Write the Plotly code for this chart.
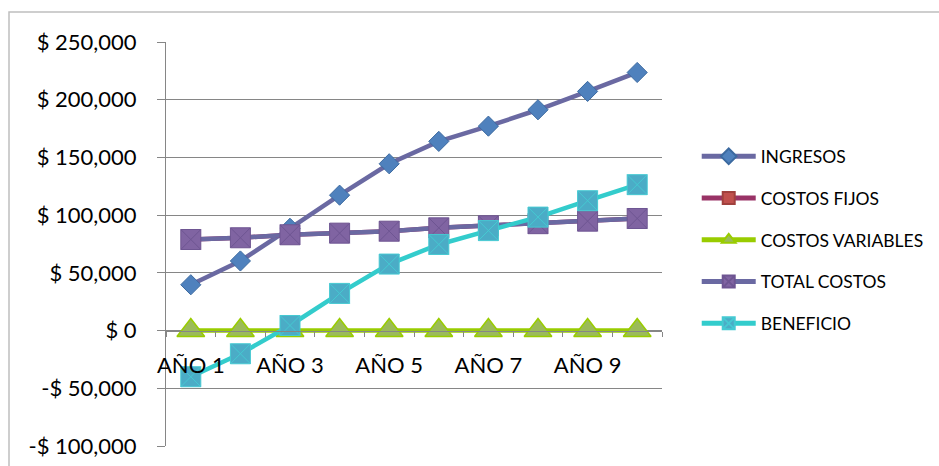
import plotly.graph_objects as go

# ---- data ----
categories = ["AÑO 1", "AÑO 2", "AÑO 3", "AÑO 4", "AÑO 5",
              "AÑO 6", "AÑO 7", "AÑO 8", "AÑO 9", "AÑO 10"]
year_index = [1, 2, 3, 4, 5, 6, 7, 8, 9, 10]
ingresos = [39700, 60300, 88600, 117300, 144500, 163900, 177100, 191300, 207200, 223600]
costos_fijos = [78900, 80400, 83000, 84400, 86100, 89000, 90800, 92600, 94800, 97100]
costos_variables = [0, 0, 0, 0, 0, 0, 0, 0, 0, 0]
total_costos = [78900, 80400, 83000, 84400, 86100, 89000, 90800, 92600, 94800, 97100]
beneficio = [-40000, -20100, 4400, 32200, 57600, 74600, 86600, 98300, 112500, 126400]

x_tick_vals = [1, 3, 5, 7, 9]
x_tick_text = ["AÑO 1", "AÑO 3", "AÑO 5", "AÑO 7", "AÑO 9"]
y_tick_vals = [-100000, -50000, 0, 50000, 100000, 150000, 200000, 250000]
y_tick_text = ["-$ 100,000", "-$ 50,000", "$ 0", "$ 50,000", "$ 100,000",
               "$ 150,000", "$ 200,000", "$ 250,000"]

FONT = "Lato"
LW = 4.5

fig = go.Figure()
series = [
    ("INGRESOS", ingresos, "#6A69A2", "diamond", 15.5, "#4F81BD", "#3C6AA0", 1),
    ("COSTOS FIJOS", costos_fijos, "#993366", "square", 18, "#C0504D", "#A0403D", 1),
    ("COSTOS VARIABLES", costos_variables, "#99CC00", "triangle-up", 24, "#9BBB59", "#99CC00", 1.5),
    ("TOTAL COSTOS", total_costos, "#6A69A2", "square-x", 20, "#8064A2", "#6E5592", 1),
    ("BENEFICIO", beneficio, "#33CCCC", "square-x", 20, "#4BACC6", "#45C9D2", 1),
]
for i, (name, vals, lc, sym, ms, mc, mlc, mlw) in enumerate(series):
    fig.add_trace(go.Scatter(
        x=year_index, y=vals, name=name, mode="lines+markers",
        line=dict(color=lc, width=LW),
        marker=dict(symbol=sym, size=ms, color=mc, line=dict(color=mlc, width=mlw)),
        legendgroup=f"g{i}",
    ))

fig.update_layout(
    width=939, height=466,
    margin=dict(l=166, r=277, t=42, b=20, pad=0, autoexpand=False),
    paper_bgcolor="white", plot_bgcolor="white",
    font=dict(family=FONT, color="black"),
    shapes=[dict(type="rect", xref="paper", yref="paper",
                 x0=(9 - 166) / 496, x1=1.7, y0=-0.2, y1=(446 - 12) / 404,
                 line=dict(color="#BFBFBF", width=1.5), layer="below")],
    legend=dict(
        x=1.07, xanchor="left", y=0.51, yanchor="middle",
        font=dict(family=FONT, size=17.5, color="black"),
        traceorder="grouped", tracegroupgap=16,
        itemwidth=54, itemsizing="constant", bgcolor="rgba(0,0,0,0)",
    ),
)

fig.update_xaxes(
    range=[0.5, 10.5], tickmode="array", tickvals=x_tick_vals, ticktext=x_tick_text,
    ticks="", showgrid=False, zeroline=False, automargin=False,
    showline=True, linecolor="#868686", linewidth=1,
    anchor="free", position=100000 / 350000,
    tickfont=dict(family=FONT, size=22, color="black"),
    ticklabelstandoff=15,
    minor=dict(ticks="outside", tick0=0.5, dtick=1, ticklen=5, tickcolor="#868686",
               showgrid=False),
)
fig.update_yaxes(
    range=[-100000, 250000], tickmode="array", tickvals=y_tick_vals, ticktext=y_tick_text,
    showgrid=True, gridcolor="#868686", gridwidth=1, zeroline=False, automargin=False,
    showline=True, linecolor="#868686", linewidth=1,
    ticks="outside", ticklen=8, tickcolor="#868686",
    tickfont=dict(family=FONT, size=22, color="black"),
    ticklabelstandoff=16,
)

fig.write_html("out.html")
